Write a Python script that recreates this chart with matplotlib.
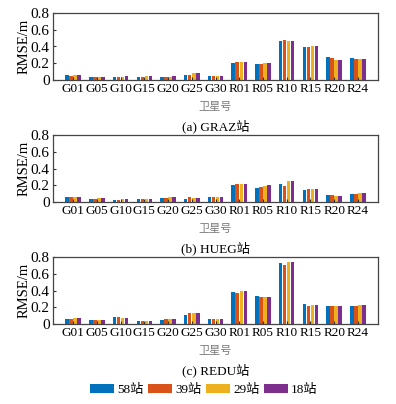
import numpy as np
import matplotlib
matplotlib.use('Agg')
import matplotlib.pyplot as plt

plt.rcParams['font.family'] = ['Liberation Serif', 'Noto Sans CJK SC']

sats = ['G01', 'G05', 'G10', 'G15', 'G20', 'G25', 'G30',
        'R01', 'R05', 'R10', 'R15', 'R20', 'R24']
series = ['58站', '39站', '29站', '18站']
colors = ['#0072BD', '#D95319', '#EDB120', '#7E2F8E']

# columns: 58, 39, 29, 18 stations
graz = [[0.055, 0.045, 0.055, 0.055],
        [0.035, 0.035, 0.035, 0.035],
        [0.035, 0.035, 0.040, 0.045],
        [0.035, 0.035, 0.045, 0.045],
        [0.035, 0.035, 0.040, 0.045],
        [0.055, 0.055, 0.085, 0.085],
        [0.045, 0.045, 0.045, 0.045],
        [0.200, 0.210, 0.210, 0.210],
        [0.190, 0.190, 0.200, 0.200],
        [0.470, 0.480, 0.460, 0.460],
        [0.390, 0.390, 0.400, 0.400],
        [0.280, 0.260, 0.240, 0.240],
        [0.260, 0.250, 0.250, 0.250]]
hueg = [[0.055, 0.055, 0.055, 0.055],
        [0.035, 0.035, 0.045, 0.045],
        [0.025, 0.025, 0.035, 0.035],
        [0.035, 0.035, 0.035, 0.035],
        [0.045, 0.045, 0.055, 0.055],
        [0.035, 0.055, 0.045, 0.045],
        [0.055, 0.065, 0.065, 0.065],
        [0.200, 0.210, 0.215, 0.220],
        [0.170, 0.180, 0.195, 0.200],
        [0.210, 0.190, 0.250, 0.250],
        [0.140, 0.160, 0.150, 0.150],
        [0.085, 0.085, 0.075, 0.075],
        [0.095, 0.095, 0.105, 0.105]]
redu = [[0.060, 0.060, 0.070, 0.070],
        [0.050, 0.050, 0.050, 0.050],
        [0.080, 0.080, 0.070, 0.070],
        [0.040, 0.040, 0.040, 0.040],
        [0.050, 0.060, 0.060, 0.060],
        [0.110, 0.130, 0.130, 0.130],
        [0.060, 0.060, 0.060, 0.060],
        [0.380, 0.370, 0.390, 0.390],
        [0.330, 0.320, 0.320, 0.320],
        [0.730, 0.710, 0.740, 0.740],
        [0.240, 0.210, 0.230, 0.230],
        [0.210, 0.210, 0.220, 0.220],
        [0.210, 0.210, 0.230, 0.230]]
captions = ['(a) GRAZ站', '(b) HUEG站', '(c) REDU站']

fig = plt.figure(figsize=(3.96, 4.04), dpi=100)
W, H = 396, 404
boxes = [(13, 80), (135, 202), (257, 324)]
x = np.arange(len(sats))
bw = 0.17
cx = (53 + 378) / 2 / W
for data, cap, (top, bot) in zip([graz, hueg, redu], captions, boxes):
    ax = fig.add_axes([53 / W, 1 - bot / H, (378 - 53) / W, (bot - top) / H])
    d = np.array(data)
    for j in range(4):
        ax.bar(x + (j - 1.5) * bw, d[:, j], bw * 0.85, color=colors[j],
               label=series[j])
    ax.set_xlim(-0.85, 12.85)
    ax.set_ylim(0, 0.8)
    ax.set_yticks([0, 0.2, 0.4, 0.6, 0.8])
    ax.set_yticklabels(['0', '0.2', '0.4', '0.6', '0.8'], fontsize=11)
    ax.set_xticks(x)
    ax.set_xticklabels(sats, fontsize=9.5)
    ax.tick_params(direction='in', length=2, width=0.8, color='#333333', pad=2.5)
    for s in ax.spines.values():
        s.set_color('#444444')
        s.set_linewidth(0.9)
    ax.set_ylabel('RMSE/m', fontsize=10.5, labelpad=0)
    fig.text(cx, 1 - (bot + 27) / H, '卫星号', ha='center', va='center',
             fontsize=8, color='#777777')
    fig.text(cx, 1 - (bot + 46.5) / H, cap, ha='center', va='center',
             fontsize=9.5)

handles, labels = ax.get_legend_handles_labels()
fig.legend(handles, labels, loc='center', bbox_to_anchor=(0.515, 1 - 390 / H),
           ncol=4, frameon=False, fontsize=9.5, handlelength=1.8,
           handleheight=0.65, handletextpad=0.25, columnspacing=0.35,
           borderpad=0, borderaxespad=0)

fig.savefig('out.png', dpi=100)
